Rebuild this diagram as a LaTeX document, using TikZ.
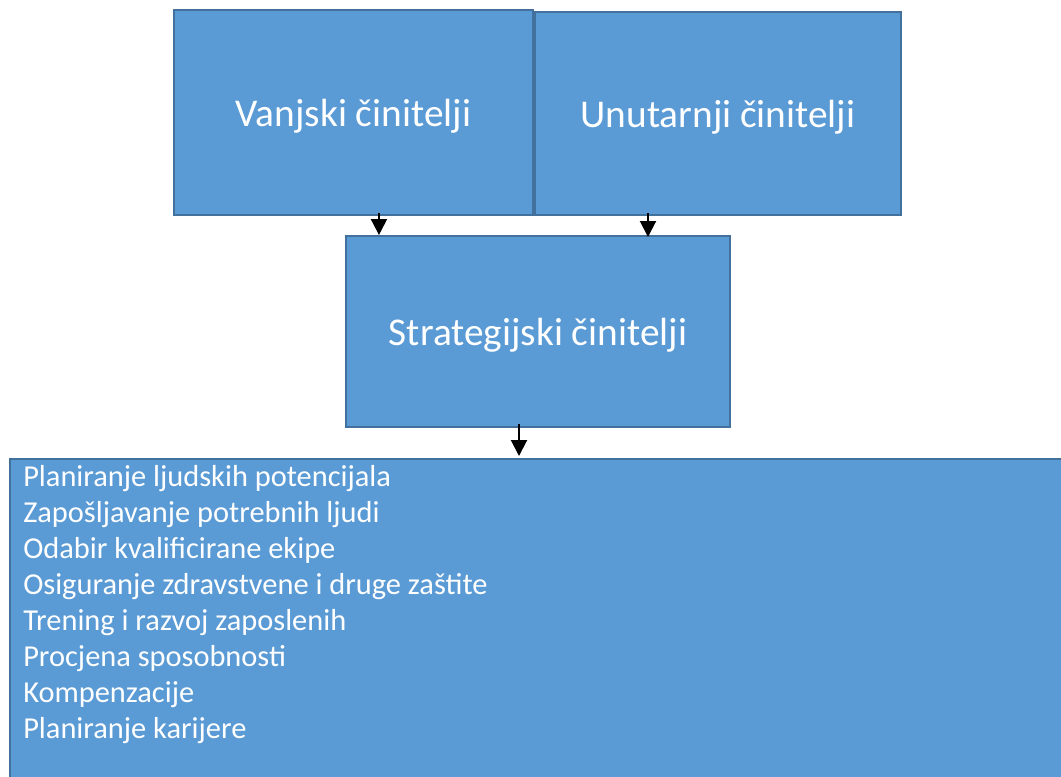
\documentclass[tikz,border=0pt]{standalone}
\usepackage{fontspec}
\setmainfont{Carlito}
\usetikzlibrary{positioning,arrows.meta}
\definecolor{boxfill}{HTML}{5B9BD5}
\definecolor{boxline}{HTML}{41719C}

\begin{document}
\begin{tikzpicture}[x=0.75pt,y=-0.75pt]
            \tikzstyle{factor}=[rectangle, fill=boxfill, draw=boxline, line width=1.5pt, text=white, inner sep=0pt, text height=26.5pt, text depth=6pt, font=\fontsize{29.5}{35}\selectfont]
            \tikzstyle{arrow}=[line width=1.5pt, -{Triangle[width=12pt,length=12pt]}]
            \clip (0,0) rectangle (1061,776);
            \node[factor, minimum width=269.25pt, minimum height=153.75pt] (V) at (353.5,112.5){Vanjski činitelji};
            \node[factor, minimum width=274.5pt, minimum height=152.25pt] (U) at (718,113.5){Unutarnji činitelji};
            \node[factor, minimum width=288pt, minimum height=143.25pt] (S) at (538,331.5){Strategijski činitelji};
            \node[factor, minimum width=802.5pt, minimum height=255pt, anchor=north west] (A) at (9,458){};
            \node[text=white, anchor=north west, align=left, inner sep=0pt, font=\fontsize{22.8}{27}\selectfont] (L) at (23,465){Planiranje ljudskih potencijala\\
                Zapošljavanje potrebnih ljudi\\
                Odabir kvalificirane ekipe\\
                Osiguranje zdravstvene i druge zaštite\\
                Trening i razvoj zaposlenih\\
                Procjena sposobnosti\\
                Kompenzacije\\
                Planiranje karijere};

            % arrows between the boxes
            \coordinate (VS) at ([xshift=19.1pt, yshift=2.25pt]V.south);
            \coordinate (US) at ([xshift=-52.5pt, yshift=2.25pt]U.south);
            \coordinate (SS) at ([xshift=-14.25pt, yshift=3pt]S.south);
            \path (VS) edge [arrow] (VS |- S.north);
            \path (US) edge [arrow] ([yshift=-1.5pt]US |- S.north);
            \path (SS) edge [arrow] ([yshift=1.5pt]SS |- A.north);
        \end{tikzpicture}
\end{document}
